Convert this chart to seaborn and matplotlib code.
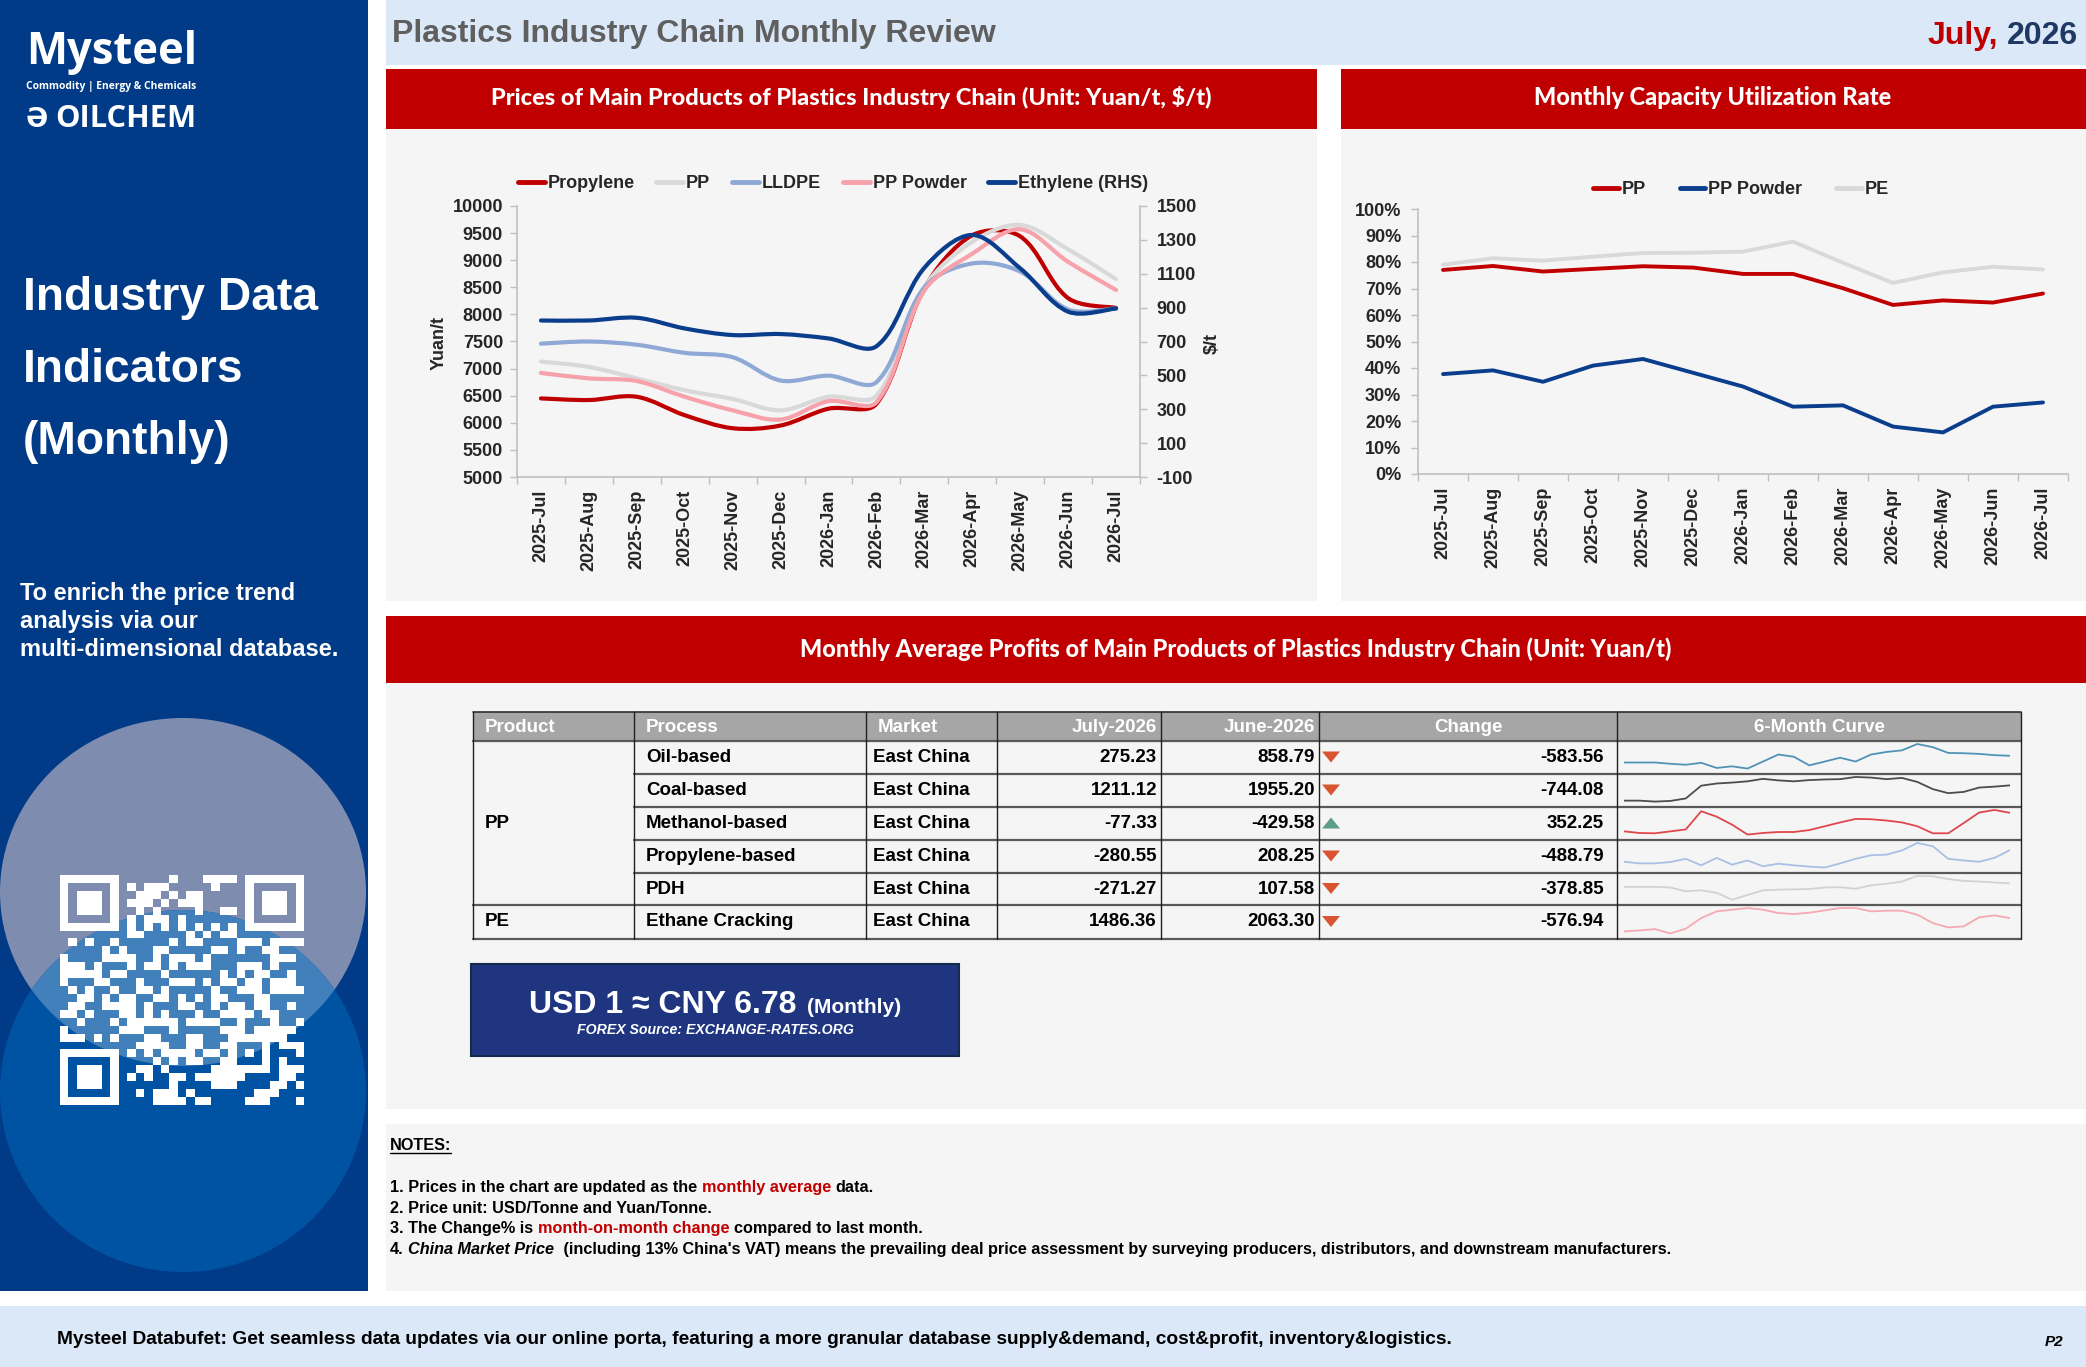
import numpy as np
import pandas as pd
import matplotlib
matplotlib.use("Agg")
import matplotlib.pyplot as plt
import seaborn as sns
from matplotlib.patches import Rectangle, Ellipse, PathPatch, Polygon
from matplotlib.path import Path
from matplotlib.lines import Line2D
from matplotlib.ticker import PercentFormatter

# ---------------------------------------------------------------- data
months = ["2025-Jul", "2025-Aug", "2025-Sep", "2025-Oct", "2025-Nov", "2025-Dec",
          "2026-Jan", "2026-Feb", "2026-Mar", "2026-Apr", "2026-May", "2026-Jun", "2026-Jul"]

# monthly prices, Yuan/t (left axis)
propylene = [6450, 6420, 6480, 6140, 5900, 5950, 6260, 6350, 8480, 9460, 9440, 8300, 8120]
pp_price = [7130, 7030, 6820, 6600, 6440, 6230, 6480, 6500, 8500, 9340, 9650, 9200, 8650]
lldpe = [7460, 7500, 7440, 7290, 7210, 6780, 6870, 6750, 8500, 8940, 8790, 8090, 8110]
pp_powder = [6920, 6820, 6770, 6480, 6230, 6060, 6400, 6380, 8440, 9120, 9570, 8970, 8450]
# ethylene, $/t (right axis)
ethylene = [824, 824, 840, 777, 738, 744, 718, 672, 1135, 1329, 1132, 876, 895]

# monthly capacity utilisation, %
util_pp = [77.0, 78.5, 76.4, 77.4, 78.4, 77.9, 75.5, 75.5, 70.1, 63.8, 65.5, 64.7, 68.1]
util_pp_powder = [37.7, 39.1, 34.8, 40.9, 43.4, 38.2, 33.0, 25.4, 25.9, 17.9, 15.7, 25.4, 27.0]
util_pe = [79.0, 81.4, 80.5, 82.0, 83.4, 83.5, 83.9, 87.7, 79.7, 72.1, 76.1, 78.2, 77.2]

# profit table, Yuan/t
tbl_product = ["PP", "PP", "PP", "PP", "PP", "PE"]
tbl_process = ["Oil-based", "Coal-based", "Methanol-based", "Propylene-based", "PDH", "Ethane Cracking"]
tbl_market = ["East China"] * 6
tbl_jul = [275.23, 1211.12, -77.33, -280.55, -271.27, 1486.36]
tbl_jun = [858.79, 1955.20, -429.58, 208.25, 107.58, 2063.30]
tbl_change = [-583.56, -744.08, 352.25, -488.79, -378.85, -576.94]

# 6-month sparkline levels (relative)
spark_oil = [34, 34, 34, 30, 27, 33, 17, 22, 15, 37, 59, 52, 25, 37, 49, 37, 59, 67, 72, 92, 82, 64, 63, 61, 57, 55]
spark_coal = [16, 16, 13, 15, 23, 64, 71, 74, 78, 86, 81, 78, 82, 84, 85, 92, 90, 85, 89, 76, 53, 40, 44, 58, 61, 65]
spark_methanol = [24, 19, 18, 24, 30, 87, 70, 45, 14, 19, 22, 22, 28, 40, 52, 63, 62, 58, 52, 40, 18, 18, 50, 83, 91, 82]
spark_propylene = [32, 27, 27, 31, 41, 21, 44, 23, 36, 18, 26, 21, 17, 14, 27, 41, 52, 54, 67, 90, 80, 41, 36, 32, 44, 68]
spark_pdh = [56, 56, 56, 54, 42, 45, 37, 15, 30, 45, 47, 48, 49, 54, 55, 50, 61, 66, 73, 91, 90, 81, 75, 73, 70, 67]
spark_ethane = [22, 25, 29, 16, 30, 62, 82, 87, 92, 87, 77, 74, 78, 85, 92, 92, 82, 84, 84, 72, 47, 34, 37, 64, 70, 62]
spark_series = [spark_oil, spark_coal, spark_methanol, spark_propylene, spark_pdh, spark_ethane]
spark_colors = ["#4F93B6", "#4D4D4D", "#E0474C", "#A9C0E4", "#D2D2D2", "#F6A9B1"]

fx_rate = "6.78"

# ---------------------------------------------------------------- style
sns.set_theme(style="white")
plt.rcParams['font.family'] = ['Liberation Sans', 'DejaVu Sans']
plt.rcParams['font.weight'] = 'bold'
plt.rcParams['axes.unicode_minus'] = False

W, H = 2086, 1367
fig = plt.figure(figsize=(W / 100, H / 100), dpi=100)
fig.patch.set_facecolor('white')
bg = fig.add_axes([0, 0, 1, 1], zorder=0)
bg.set_xlim(0, W)
bg.set_ylim(H, 0)
bg.axis('off')
renderer = fig.canvas.get_renderer()

NAVY = '#013A86'
RED = '#C00000'
PANEL = '#F5F5F5'
LIGHT = '#DAE8F7'


def rect(x, y, w, h, color, **kw):
    p = Rectangle((x, y), w, h, facecolor=color, edgecolor='none', **kw)
    bg.add_patch(p)
    return p


def px_axes(x0, y0, x1, y1):
    a = fig.add_axes([x0 / W, 1 - y1 / H, (x1 - x0) / W, (y1 - y0) / H])
    a.set_facecolor('none')
    return a


def fit_width(t, target):
    w = t.get_window_extent(renderer).width
    t.set_fontsize(t.get_fontsize() * target / w)
    return t


def text_w(s, size, style='normal', family=None, weight='bold'):
    kw = {} if family is None else {'family': family}
    t = bg.text(0, 0, s, fontsize=size, fontstyle=style, fontweight=weight, **kw)
    w = t.get_window_extent(renderer).width
    t.remove()
    return w


def rich(x, y, pieces, size, ha='left'):
    sp = text_w("a a", size) - text_w("aa", size)
    widths = [text_w(s, size, st) for s, c, st in pieces]
    total = sum(widths) + sp * (len(pieces) - 1)
    cx = x if ha == 'left' else x - total
    for (s, c, st), w in zip(pieces, widths):
        bg.text(cx, y, s, color=c, fontsize=size, fontstyle=st, fontweight='bold',
                ha='left', va='baseline')
        cx += w + sp


# ---------------------------------------------------------------- backgrounds
rect(0, 0, 368, 1291, NAVY)
rect(386, 0, 1700, 65, LIGHT)
rect(0, 1306, 2086, 61, LIGHT)
rect(386, 69, 931, 60, RED)
rect(1341, 69, 745, 60, RED)
rect(386, 616, 1700, 67, RED)
rect(386, 129, 931, 472, PANEL)
rect(1341, 129, 745, 472, PANEL)
rect(386, 683, 1700, 426, PANEL)
rect(386, 1124, 1700, 167, PANEL)

# left panel circles
e_up = Ellipse((183, 892), 366, 348, facecolor='#7D8CAF', edgecolor='none')
e_lo = Ellipse((183, 1091), 366, 362, facecolor='#0053A3', edgecolor='none')
e_ov = Ellipse((183, 892), 366, 348, facecolor='#4180BB', edgecolor='none')
for p in (e_up, e_lo, e_ov):
    bg.add_patch(p)
e_ov.set_clip_path(e_lo)

# decorative QR code (fixed pattern)
qr_text = "MYSTEEL-OILCHEM-DATABUFET-PLASTICS-MONTHLY-2026-07"


def build_qr(n=29):
    M = np.zeros((n, n), dtype=int)
    res = np.zeros((n, n), dtype=bool)
    for (r0, c0) in [(0, 0), (0, n - 7), (n - 7, 0)]:
        for i in range(-1, 8):
            for j in range(-1, 8):
                r, c = r0 + i, c0 + j
                if 0 <= r < n and 0 <= c < n:
                    res[r, c] = True
                    if 0 <= i < 7 and 0 <= j < 7:
                        M[r, c] = int(max(abs(i - 3), abs(j - 3)) != 2)
    ar = n - 7
    for i in range(-2, 3):
        for j in range(-2, 3):
            res[ar + i, ar + j] = True
            M[ar + i, ar + j] = int(max(abs(i), abs(j)) != 1)
    for k in range(8, n - 8):
        res[6, k] = res[k, 6] = True
        M[6, k] = M[k, 6] = int(k % 2 == 0)
    bits = ''.join(f'{b:08b}' for b in qr_text.encode())
    idx = 0
    for r in range(n):
        for c in range(n):
            if not res[r, c]:
                M[r, c] = int(bits[idx % len(bits)]) ^ int((r + c) % 3 == 0)
                idx += 1
    return M


qr = build_qr()
img = np.zeros(qr.shape + (4,))
img[qr == 1] = [1, 1, 1, 1]
bg.imshow(img, extent=(60, 304, 1105, 875), interpolation='nearest', aspect='auto', zorder=3)
bg.set_xlim(0, W)
bg.set_ylim(H, 0)

# logo
t = bg.text(26, 64, "Mysteel", color='white', fontsize=30, family='Open Sans', fontweight='bold',
            va='baseline')
fit_width(t, 171)
t = bg.text(26, 89, "Commodity | Energy & Chemicals", color='white', fontsize=7,
            family='Open Sans', fontweight='bold', va='baseline')
fit_width(t, 170)
t = bg.text(26, 127, "\u018F", color='white', fontsize=20, family=['DejaVu Sans'],
            fontweight='bold', va='baseline')
fit_width(t, 22)
t = bg.text(55, 127, "OILCHEM", color='white', fontsize=20, family='Open Sans',
            fontweight='bold', va='baseline')
fit_width(t, 142)

# left panel headings
t = bg.text(23, 310, "Industry Data", color='white', fontsize=32, fontweight='bold', va='baseline')
fit_width(t, 295)
fs = t.get_fontsize()
bg.text(23, 382, "Indicators", color='white', fontsize=fs, fontweight='bold', va='baseline')
bg.text(23, 454, "(Monthly)", color='white', fontsize=fs, fontweight='bold', va='baseline')
t = bg.text(20, 600, "To enrich the price trend", color='white', fontsize=16, fontweight='bold',
            va='baseline')
fit_width(t, 275)
fs = t.get_fontsize()
bg.text(20, 628, "analysis via our", color='white', fontsize=fs, fontweight='bold', va='baseline')
bg.text(20, 656, "multi-dimensional database.", color='white', fontsize=fs, fontweight='bold',
        va='baseline')

# header
bg.text(392, 42, "Plastics Industry Chain Monthly Review", color='#5F5F5F', fontsize=23,
        fontweight='bold', va='baseline')
rich(2078, 44, [("July,", RED, 'normal'), ("2026", '#1F3864', 'normal')], 23, ha='right')

# banners
for cx, cy, s, tw in [(851, 105, "Prices of Main Products of Plastics Industry Chain (Unit: Yuan/t, $/t)", 722),
                      (1713, 105, "Monthly Capacity Utilization Rate", 359),
                      (1236, 657, "Monthly Average Profits of Main Products of Plastics Industry Chain (Unit: Yuan/t)", 876)]:
    t = bg.text(cx, cy, s, color='white', fontsize=14, family='Lato', fontweight='black',
                ha='center', va='baseline')
    fit_width(t, tw)

# ---------------------------------------------------------------- price chart


def smooth_path(xs, ys, sx, sy, tension=1 / 6):
    """Excel-style smoothed line: cubic Bezier through the data points."""
    P = np.column_stack([xs, ys]).astype(float)
    S = P * np.array([sx, sy])
    n = len(P)

    def dist(i, j):
        return float(np.hypot(*(S[j] - S[i])))

    verts = [P[0]]
    codes = [Path.MOVETO]
    for i in range(n - 1):
        i0, i3 = max(i - 1, 0), min(i + 2, n - 1)
        d01, d12, d23 = dist(i0, i), dist(i, i + 1), dist(i + 1, i3)
        f1 = 2 * d12 / (d01 + d12) if d01 > 0 else 1.0
        f2 = 2 * d12 / (d12 + d23) if d23 > 0 else 1.0
        c1 = P[i] + (P[i + 1] - P[i0]) * tension * f1
        c2 = P[i + 1] - (P[i3] - P[i]) * tension * f2
        verts += [c1, c2, P[i + 1]]
        codes += [Path.CURVE4] * 3
    return Path(verts, codes)


AX0, AY0, AX1, AY1 = 517, 206, 1140, 477
axL = px_axes(AX0, AY0, AX1, AY1)
axL.set_xlim(-0.5, 12.5)
axL.set_ylim(5000, 10000)
axE = axL.twinx()
axE.set_facecolor('none')
axE.set_ylim(-100, 1500)
xi = np.arange(len(months))
price_series = [(propylene, '#C00000', 'Propylene', axL),
                (pp_price, '#D9D9D9', 'PP', axL),
                (lldpe, '#8EA9D5', 'LLDPE', axL),
                (pp_powder, '#F7A1AA', 'PP Powder', axL),
                (ethylene, '#0A3D8C', 'Ethylene (RHS)', axE)]
handles = []
sxp = (AX1 - AX0) / 13.0
for vals, col, lab, a in price_series:
    lo, hi = a.get_ylim()
    syp = (AY1 - AY0) / (hi - lo)
    a.add_patch(PathPatch(smooth_path(xi, vals, sxp, syp), fill=False, edgecolor=col, lw=3.0,
                          capstyle='round', joinstyle='round', zorder=3))
    handles.append(Line2D([], [], color=col, lw=3.5, label=lab))

SP = '#BFBFBF'
axL.set_yticks(np.arange(5000, 10001, 500))
axE.set_yticks(np.arange(-100, 1501, 200))
axL.set_xticks(xi)
axL.set_xticklabels(months, rotation=90)
axL.set_xticks(np.arange(-0.5, 13, 1), minor=True)
axL.tick_params(axis='x', which='major', length=0, pad=9, labelsize=13, bottom=True)
axL.tick_params(axis='x', which='minor', length=5, width=1, color=SP, bottom=True, direction='out')
axL.tick_params(axis='y', length=5, width=1, color=SP, pad=5, labelsize=13, left=True, direction='out')
axE.tick_params(axis='y', length=5, width=1, color=SP, pad=7, labelsize=13, right=True, direction='out')
for a in (axL, axE):
    for s in a.spines.values():
        s.set_visible(False)
for a, s in [(axL, 'left'), (axL, 'bottom'), (axE, 'right')]:
    a.spines[s].set_visible(True)
    a.spines[s].set_color(SP)
    a.spines[s].set_linewidth(1.2)
axL.set_ylabel('Yuan/t', fontsize=13, fontweight='bold')
axL.yaxis.label.set(va='center', ha='center')
axL.yaxis.set_label_coords((439 - AX0) / (AX1 - AX0), 1 - (343 - AY0) / (AY1 - AY0))
axE.set_ylabel('$/t', fontsize=13, fontweight='bold', rotation=90)
axE.yaxis.label.set(va='center', ha='center')
axE.yaxis.set_label_coords((1212 - AX0) / (AX1 - AX0), 1 - (343 - AY0) / (AY1 - AY0))
fig.legend(handles=handles, loc='center', bbox_to_anchor=(833 / W, 1 - 184 / H), ncol=5,
           frameon=False, prop={'size': 13, 'weight': 'bold'}, handlelength=1.5,
           handletextpad=0.15, columnspacing=1.2)

# ---------------------------------------------------------------- utilisation chart
axC = px_axes(1418, 209, 2068, 474)
dfu = pd.DataFrame({
    'idx': list(xi) * 3,
    'value': [v / 100 for v in util_pp + util_pp_powder + util_pe],
    'series': ['PP'] * 13 + ['PP Powder'] * 13 + ['PE'] * 13,
})
upal = {'PP': '#C00000', 'PP Powder': '#0A3D8C', 'PE': '#D9D9D9'}
sns.lineplot(data=dfu, x='idx', y='value', hue='series', hue_order=['PP', 'PP Powder', 'PE'],
             palette=upal, lw=2.8, ax=axC, legend=False, sort=False)
axC.set_xlim(-0.5, 12.5)
axC.set_ylim(0, 1)
axC.set_xlabel('')
axC.set_ylabel('')
axC.set_yticks(np.arange(0, 1.001, 0.1))
axC.yaxis.set_major_formatter(PercentFormatter(1.0, decimals=0))
axC.set_xticks(xi)
axC.set_xticklabels(months, rotation=90)
axC.set_xticks(np.arange(-0.5, 13, 1), minor=True)
axC.tick_params(axis='x', which='major', length=0, pad=9, labelsize=13, bottom=True)
axC.tick_params(axis='x', which='minor', length=5, width=1, color=SP, bottom=True, direction='out')
axC.tick_params(axis='y', length=5, width=1, color=SP, pad=7, labelsize=13, left=True, direction='out')
for s in axC.spines.values():
    s.set_visible(False)
for s in ('left', 'bottom'):
    axC.spines[s].set_visible(True)
    axC.spines[s].set_color(SP)
    axC.spines[s].set_linewidth(1.2)
uh = [Line2D([], [], color=upal[k], lw=3.5, label=k) for k in ['PP', 'PP Powder', 'PE']]
fig.legend(handles=uh, loc='center', bbox_to_anchor=(1741 / W, 1 - 190 / H), ncol=3,
           frameon=False, prop={'size': 13, 'weight': 'bold'}, handlelength=1.4,
           handletextpad=0.15, columnspacing=1.9)

# ---------------------------------------------------------------- profit table
TX0, TX1 = 473, 2021
col_x = [473, 634, 866, 997, 1161, 1319, 1617, 2021]
row_y = [741, 774, 807, 840, 873, 905, 939]
rect(TX0, 712, TX1 - TX0, 29, '#A6A6A6')
TS = 13.5
hy = 727
for s, x, ha in [("Product", 485, 'left'), ("Process", 646, 'left'), ("Market", 878, 'left'),
                 ("July-2026", 1157, 'right'), ("June-2026", 1315, 'right'),
                 ("Change", 1468, 'center'), ("6-Month Curve", 1819, 'center')]:
    bg.text(x, hy, s, color='white', fontsize=TS, fontweight='bold', ha=ha, va='center')

bg.plot([TX0, TX1], [712, 712], color='#303030', lw=1.2)
for y in row_y:
    if y in (774, 807, 840, 873):
        bg.plot([634, TX1], [y, y], color='#595959', lw=1.6)
    else:
        bg.plot([TX0, TX1], [y, y], color='#595959', lw=1.6)
for x in col_x:
    bg.plot([x, x], [712, 939], color='#202020', lw=1.0)

bg.text(485, (row_y[0] + row_y[5]) / 2, "PP", fontsize=TS, fontweight='bold', va='center', color='black')
bg.text(485, (row_y[5] + row_y[6]) / 2, "PE", fontsize=TS, fontweight='bold', va='center', color='black')
for i in range(6):
    yc = (row_y[i] + row_y[i + 1]) / 2
    bg.text(646, yc, tbl_process[i], fontsize=TS, fontweight='bold', va='center', color='black')
    bg.text(873, yc, tbl_market[i], fontsize=TS, fontweight='bold', va='center', color='black')
    bg.text(1157, yc, f"{tbl_jul[i]:.2f}", fontsize=TS, fontweight='bold', va='center', ha='right', color='black')
    bg.text(1315, yc, f"{tbl_jun[i]:.2f}", fontsize=TS, fontweight='bold', va='center', ha='right', color='black')
    bg.text(1604, yc, f"{tbl_change[i]:.2f}", fontsize=TS, fontweight='bold', va='center', ha='right', color='black')
    if tbl_change[i] < 0:
        tri = [(1322, yc - 6), (1340, yc - 6), (1331, yc + 5)]
        tc = '#D95431'
    else:
        tri = [(1322, yc + 5), (1340, yc + 5), (1331, yc - 6)]
        tc = '#5E9E86'
    bg.add_patch(Polygon(tri, closed=True, facecolor=tc, edgecolor='none'))

    vals = spark_series[i]
    ax_s = px_axes(1624, row_y[i] + 1, 2010, row_y[i + 1] - 1)
    sns.lineplot(x=np.arange(len(vals)), y=vals, ax=ax_s, color=spark_colors[i], lw=1.3)
    lo, hi = min(vals), max(vals)
    rng = hi - lo
    ax_s.set_xlim(0, len(vals) - 1)
    ax_s.set_ylim(lo - 0.18 * rng, hi + 0.08 * rng)
    ax_s.axis('off')

# ---------------------------------------------------------------- FX box
bg.add_patch(Rectangle((471, 964), 488, 92, facecolor='#1F3580', edgecolor='#18294F', lw=1.5))
main_s = f"USD 1 \u2248 CNY {fx_rate}"
w_main = text_w(main_s, 23)
w_mon = text_w("(Monthly)", 15)
gap = 10
x0 = 715 - (w_main + gap + w_mon) / 2
bg.text(x0, 1013, main_s, color='white', fontsize=23, fontweight='bold', va='baseline')
bg.text(x0 + w_main + gap, 1013, "(Monthly)", color='white', fontsize=15, fontweight='bold', va='baseline')
t = bg.text(715, 1034, "FOREX Source: EXCHANGE-RATES.ORG", color='white', fontsize=10,
            fontweight='bold', fontstyle='italic', ha='center', va='baseline')
fit_width(t, 276)

# ---------------------------------------------------------------- notes
t = bg.text(390, 1150, "NOTES:", fontsize=11, fontweight='bold', va='baseline', color='black')
fit_width(t, 61)
bg.plot([390, 451], [1153, 1153], color='black', lw=1.0)
ns = 10 * 484 / text_w("1. Prices in the chart are updated as the monthly average data.", 10)
K = 'black'
rich(390, 1192, [("1. Prices in the chart are updated as the", K, 'normal'),
                 ("monthly average", RED, 'normal'), ("data.", K, 'normal')], ns)
rich(390, 1213, [("2. Price unit: USD/Tonne and Yuan/Tonne.", K, 'normal')], ns)
rich(390, 1233, [("3. The Change% is", K, 'normal'), ("month-on-month change", RED, 'normal'),
                 ("compared to last month.", K, 'normal')], ns)
rich(390, 1254, [("4.", K, 'normal'), ("China Market Price", K, 'italic'),
                 (" (including 13% China's VAT) means the prevailing deal price assessment by surveying producers, distributors, and downstream manufacturers.", K, 'normal')], ns)

# ---------------------------------------------------------------- footer
t = bg.text(57, 1344, "Mysteel Databufet: Get seamless data updates via our online porta, featuring a more granular database supply&demand, cost&profit, inventory&logistics.",
            fontsize=12, fontweight='bold', va='baseline', color='black')
fit_width(t, 1389)
bg.text(2063, 1346, "P2", fontsize=11, fontweight='bold', fontstyle='italic', ha='right',
        va='baseline', color='black')

fig.savefig('out.png', dpi=100, facecolor='white')
